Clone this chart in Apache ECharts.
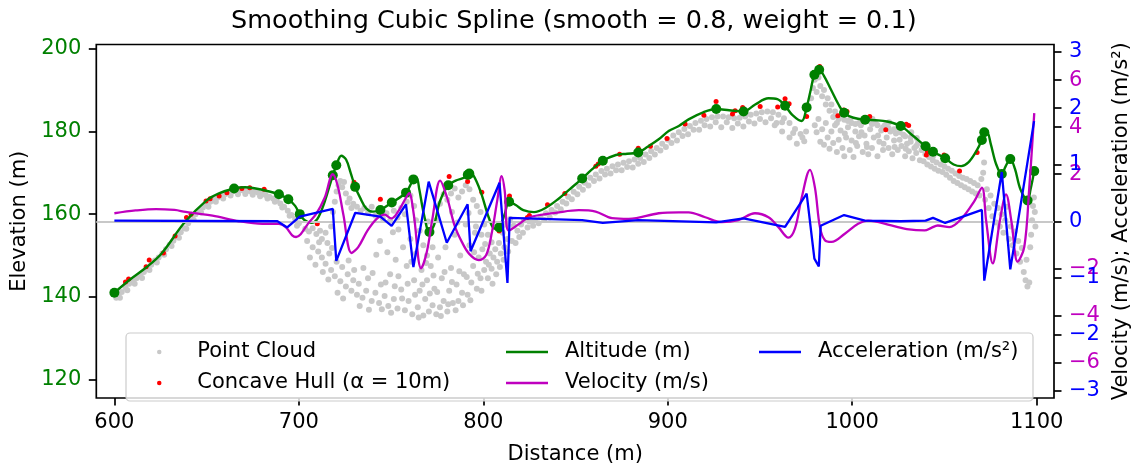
<!DOCTYPE html>
<html>
<head>
<meta charset="utf-8">
<script src="https://cdn.jsdelivr.net/npm/echarts@6/dist/echarts.min.js"></script>
<style>html,body{margin:0;padding:0;background:#fff;}#c{width:1140px;height:470px;}</style>
</head>
<body>
<div id="c"></div>
<script>
const xTicks = [600, 700, 800, 900, 1000, 1100];
const elevTicks = [120, 140, 160, 180, 200];
const velTicks = [-6, -4, -2, 2, 4, 6];
const accTicks = [-3, -2, -1, 0, 1, 2, 3];

const pointCloud = [
[601,139.8],[602,140.5],[604,141.2],[606,142.3],[608,143.2],[610,143.8],[612,144.5],[614,145.3],[616,146.0],[618,146.8],[620,147.8],[622,148.8],[624,149.5],[626,150.5],[628,151.5],[630,152.6],[632,153.6],[634,154.6],[636,155.6],[638,156.6],[640,157.8],[642,158.8],[644,160.0],[646,160.8],[648,161.6],[650,162.4],[652,163.0],[654,163.5],[656,164.0],[658,164.5],[660,164.8],[662,165.2],[664,165.5],[666,165.6],[668,165.7],[670,165.7],[672,165.6],[674,165.5],[676,165.4],[678,165.2],[680,165.0],[682,164.6],[684,164.2],[686,163.8],[688,163.3],[690,162.6],[692,161.8],[694,160.8],[696,159.8],[698,158.8],[700,157.8],
[603,139.8],[607,141.6],[611,143.2],[615,144.6],[619,146.5],[623,148.3],[627,150.2],[631,152.3],[635,154.3],[639,156.5],[643,158.6],[647,160.4],[651,161.8],[655,163.0],[659,163.8],[663,164.5],[667,164.8],[671,164.9],[675,164.7],[679,164.3],[683,163.8],[687,163.0],[691,161.6],[695,159.6],[699,157.2],
[703.5,156.5],[705.5,155.8],[707.5,156.6],[709.5,155.2],[711.5,156.0],[712.5,154.0],[714.5,155.5],[715.5,153.0],[717.5,157.0],[718.5,160.5],[719.5,163.0],[720.5,165.5],[721.5,167.0],[722.5,168.0],[723.5,166.5],[724.5,167.8],[725.5,165.0],[726.5,162.8],[727.5,163.8],[728.5,161.5],[729.5,162.5],[731.5,161.8],[733.5,160.8],[735.5,161.5],[737.5,160.3],[739.5,161.8],[741.5,159.6],[743.5,160.5],[745.5,159.0],[747.5,160.2],[749.5,158.4],[751.5,160.8],[753.5,159.2],[755.5,161.5],[757.5,160.0],[758.5,163.0],[760.5,164.5],[762.5,162.0],[763.5,158.5],[765.5,156.0],[767.5,152.5],[769.5,150.0],[772.5,152.0],[774.5,158.5],[776.5,162.5],[778.5,164.8],[780.5,163.5],[782.5,165.0],[784.5,166.2],[786.5,164.0],[788.5,165.5],[790.5,167.0],[792.5,166.0],[794.5,163.5],[796.5,162.0],[798.5,160.5],[800.5,157.5],[802.5,155.0],[804.5,153.2],[806.5,151.5],[808.5,153.0],[810.5,155.5],[812.5,157.5],[814.5,158.8],[816.5,157.2],[818.5,156.0],[820.5,157.5],
[704.5,153.5],[707.5,152.0],[710.5,151.0],[712.5,149.5],[714.5,148.0],[716.5,150.5],[717.5,146.5],[719.5,145.0],[720.5,148.5],[722.5,143.8],[723.5,147.2],[725.5,142.5],[726.5,145.5],[728.5,141.5],[729.5,144.0],[731.5,140.5],[732.5,143.2],[734.5,139.8],[736.5,141.5],[737.5,144.5],[739.5,139.0],[741.5,141.0],[743.5,138.5],[744.5,143.0],[746.5,140.2],[748.5,137.8],[749.5,145.5],[751.5,139.5],[752.5,149.0],[753.5,137.2],[755.5,141.8],[756.5,152.0],[757.5,136.8],[758.5,147.5],[759.5,139.0],[760.5,154.0],[761.5,135.8],[762.5,144.0],[763.5,150.5],[764.5,137.5],[765.5,141.5],[766.5,146.5],[767.5,135.5],[768.5,139.5],[769.5,144.0],[770.5,136.5],[771.5,147.5],[772.5,138.0],[773.5,142.0],[774.5,135.8],[775.5,149.5],[776.5,137.5],[777.5,144.5],[778.5,139.0],[779.5,152.0],[780.5,136.5],[781.5,141.5],[782.5,147.0],[783.5,138.5],[784.5,155.0],[785.5,143.0],[786.5,139.0],[787.5,150.0],[788.5,141.0],[789.5,145.5],[790.5,157.5],[791.5,140.5],[792.5,152.5],[793.5,143.5],[794.5,147.5],[795.5,155.5],[796.5,142.0],[797.5,149.5],[798.5,144.5],[799.5,151.5],[800.5,146.5],[801.5,148.5],[802.5,144.5],[803.5,150.5],[804.5,146.8],[805.5,149.5],[807.5,148.5],[809.5,150.5],[811.5,152.0],[813.5,151.0],[815.5,153.5],[817.5,153.0],[819.5,154.5],[821.5,155.5],
[706,149.5],[709,147.8],[711,153.2],[713,146.0],[716,144.2],[718,151.8],[721,141.0],[724,139.6],[727,148.8],[730,146.5],[733,137.8],[735,147.0],[738,136.9],[740,145.8],[742,150.2],[745,137.0],[747,143.5],[750,136.2],[752,142.6],[754,145.0],[756,139.6],[759,143.2],[761,148.5],[763,140.5],[765,135.0],[767,143.0],[769,148.2],[771,140.8],[773,145.2],[775,141.2],[777,135.4],[779,146.0],[781,138.2],[783,143.6],[785,136.8],[787,146.2],[789,138.0],[791,144.8],[793,139.2],[795,150.8],[797,145.6],[799,141.5],[801,152.8],[803,147.8],[805,143.2],[807,145.5],[809,147.2],[811,149.0],[813,154.0],[744,153.5],[748,150.8],[751,155.6],[754,156.3],[770,158.2],[783,160.5],[786,158.0],[792,160.3],[796,157.0],[799,155.0],
[822,158.5],[825,158.2],[828,158.6],[831,159.4],[834,160.2],[837,161.0],[840,162.0],[843,163.0],[846,164.2],[849,165.4],[852,166.6],[855,167.6],[858,168.8],[861,169.6],[864,170.4],[867,171.0],[870,171.6],[873,172.0],[876,172.4],[879,172.8],[882,173.2],[885,173.6],[888,174.4],[891,175.2],[894,176.0],[897,177.0],[900,178.0],[903,179.0],[906,179.8],[909,180.6],[912,181.3],[915,182.0],[918,182.6],[921,183.0],[924,183.4],[927,183.6],[930,183.6],[933,183.4],[936,183.2],[939,183.3],[942,183.6],[945,184.0],[948,184.3],[951,184.6],[954,184.8],[957,184.6],[960,184.0],[963,183.2],[966,182.0],[969,180.6],[972,179.4],
[824,156.8],[830,157.8],[836,159.2],[842,161.2],[848,163.6],[854,165.9],[860,168.0],[866,169.6],[872,170.6],[878,171.4],[884,172.2],[890,173.6],[896,175.4],[902,177.2],[908,178.9],[914,180.4],[920,181.5],[926,182.2],[932,182.2],[938,181.9],[944,182.4],[950,183.0],[956,183.2],[962,182.2],[968,179.6],[974,177.6],
[827,157.2],[833,158.6],[839,160.4],[845,162.6],[851,164.8],[857,166.9],[863,168.6],[869,169.8],[875,170.6],[881,171.3],[887,172.6],[893,174.4],[899,176.2],[905,177.8],[911,179.3],[917,180.4],[923,181.2],[929,181.0],[935,180.8],[941,181.2],[947,181.9],[953,182.2],[959,182.0],
[958,181.5],[962,180.0],[966,178.5],[970,177.0],[973,178.5],[975,180.0],
[977.7,188.0],[978.7,190.5],[979.7,192.5],[980.7,189.5],[981.7,193.0],[982.7,191.0],[983.7,188.5],[984.7,190.0],[985.7,186.5],[986.7,188.0],[987.7,185.0],[988.7,186.5],[989.7,183.5],[990.7,184.8],[991.7,182.0],[992.7,183.0],
[979.7,181.5],[980.7,179.8],[981.7,183.0],[982.7,177.5],[983.7,180.5],[984.7,176.8],[985.7,182.0],[986.7,178.5],[987.7,175.8],[988.7,180.0],[989.7,177.2],[990.7,181.5],[991.7,175.0],[992.7,178.0],[993.7,180.2],[994.7,176.0],[995.7,174.0],[996.7,178.5],[997.7,181.0],[998.7,175.5],[999.7,177.8],[1000.7,173.8],[1001.7,180.0],[1002.7,176.5],[1003.7,178.8],[1004.7,181.5],[1005.7,175.0],[1006.7,179.0],[1007.7,177.0],[1008.7,174.5],[1009.7,180.5],[1010.7,176.0],[1011.7,178.5],[1012.7,182.0],[1013.7,174.0],[1014.7,177.5],[1015.7,180.2],[1016.7,175.5],[1017.7,181.5],[1018.7,178.5],[1019.7,176.0],[1020.7,180.0],[1021.7,174.5],[1022.7,177.8],[1023.7,179.5],[1024.7,175.5],[1025.7,178.0],[1026.7,176.5],[1027.7,179.2],[1028.7,174.0],[1029.7,177.0],[1030.7,175.2],[1031.7,178.5],[1032.7,173.5],[1033.7,176.0],[1034.7,174.8],[1035.7,177.2],[1036.7,173.0],[1037.7,175.5],[1038.7,172.8],[1039.7,174.5],[1040.7,172.0],[1041.7,173.8],[1042.7,171.5],[1043.7,173.0],[1044.7,171.0],[1045.7,172.5],[1046.7,170.5],
[993.7,183.8],[995.7,182.8],[997.7,182.5],[999.7,182.0],[1001.7,181.8],[1003.7,182.0],[1005.7,182.3],[1007.7,182.5],[1010.7,181.8],[1013.7,181.5],[1016.7,181.0],[1019.7,180.8],[1022.7,180.5],[1025.7,179.8],[1028.7,178.8],[1031.7,177.5],[1034.7,176.5],[1037.7,175.5],
[996,179.5],[999,183.0],[1002,177.2],[1005,179.8],[1008,176.2],[1011,183.0],[1014,179.0],[1017,177.0],[1020,182.2],[1023,176.2],[1026,180.8],[1029,175.8],[1032,179.8],[1035,178.4],[1038,176.8],[1041,175.2],[1044,174.2],
[1048,172.0],[1049,170.2],[1050,171.5],[1051,169.5],[1052,171.0],[1053,168.8],[1054,170.5],[1055,168.0],[1056,169.8],[1057,167.5],[1058,169.2],[1059,167.0],[1060,168.8],[1061,166.5],[1062,168.5],[1063,166.0],[1064,168.0],[1065,165.5],[1066,167.5],[1067,165.0],[1068,167.0],[1069,164.5],[1070,168.5],[1071,170.0],[1071.5,172.5],[1072,163.5],[1073,166.0],[1074,161.5],[1075,164.5],[1076,159.5],[1077,162.5],[1078,158.0],[1079,161.5],[1080,157.0],[1081,160.0],[1082,155.5],[1083,158.5],[1084,161.8],[1085,154.0],[1086,157.0],[1087,152.5],[1088,155.8],[1089,150.5],[1090,153.5],[1091,148.5],[1092,151.8],[1093,146.0],[1094,144.0],[1095,142.5],[1094.5,149.0],[1096,143.5],[1096.5,152.0],[1097,155.0],[1097.5,158.5],[1098,162.0],[1098.5,164.0],[1099,160.5],[1099.3,157.0]
];

const concaveHull = [
[606,143.6],[607.7,144.3],[617.2,147.3],[618.9,148.9],[626.6,150.6],[632.9,154.7],[639.1,159.2],[641.6,160.0],[649.7,163.2],[651.9,163.7],[656.8,164.4],[661,165.2],[669.1,166.2],[673.4,166.4],[681.2,166.0],[710,157.7],[729.9,167.7],[744.2,163.6],[781.5,169.1],[791.5,167.9],[799.2,165.3],[808.6,155.9],[814.2,164.4],[823.9,159.2],[825,159.7],[834.8,162.3],[844.2,165.0],[861,171.6],[862.3,172.1],[873.9,174.5],[884,175.9],[890.6,176.4],[899.6,178.3],[909.4,181.8],[919.6,183.9],[926.2,187.2],[935.1,184.2],[936.5,185.0],[940.6,185.8],[950.1,186.0],[959.6,185.9],[963.6,187.9],[965.8,186.7],[975.3,183.6],[982.4,195.7],[992.2,183.8],[995.4,185.2],[997.2,184.8],[1009.5,183.6],[1018.2,180.4],[1029.3,181.7],[1030.6,181.4],[1040.2,174.3],[1040.8,175.1],[1049.8,174.3],[1058.2,170.4],[1067.7,174.9]
];

const altitude = [
[600,141.0],[608.5,144.2],[617.2,147.1],[625.6,150.5],[637.9,157.9],[649.7,163.2],[656.7,165.0],[664.9,166.2],[670.8,166.5],[676.6,166.2],[682.9,165.6],[689.2,164.8],[694.3,163.6],[698,162.0],[700.5,160.0],[703,158.6],[706.7,157.9],[710,158.8],[714,163.0],[718.4,169.4],[720.3,171.7],[723,174.1],[725.6,173.2],[728.1,170.0],[730.5,166.6],[733.2,164.0],[736.5,161.4],[740.2,160.6],[744.2,161.0],[750.4,162.8],[758.1,165.2],[762.1,168.4],[763.8,168.8],[765.3,166.0],[767.8,160.0],[770.8,155.7],[773.4,157.5],[776.4,163.0],[781,167.0],[785.5,168.2],[789.5,168.8],[792.4,169.8],[794.5,169.5],[798.6,165.4],[803.1,159.0],[806,156.5],[808.6,156.8],[811.6,160.0],[814,163.0],[817.6,162.2],[821.7,161.0],[827.5,160.5],[833.7,161.5],[841,163.8],[846.8,166.0],[853.6,168.6],[858.9,170.8],[864.8,172.9],[871.9,174.3],[878,174.6],[884,174.9],[889.1,176.3],[895.1,178.1],[900.5,180.1],[906,181.3],[911.3,182.9],[919.2,184.6],[926.3,185.4],[933.3,185.1],[941.1,184.8],[947.4,186.5],[954.6,188.0],[959.4,187.8],[963.6,186.2],[967.5,184.0],[972.6,182.5],[975.3,185.8],[977.5,190.0],[979.5,193.7],[982.1,194.9],[984.6,193.5],[988.6,190.0],[992.6,186.5],[995.6,184.5],[1000.7,183.3],[1007,182.8],[1012.7,182.7],[1018.8,182.4],[1026.3,181.3],[1032.8,179.0],[1039.8,176.4],[1043.8,175.1],[1050.4,173.5],[1055,172.0],[1059.1,171.6],[1063,172.5],[1067,175.0],[1070.3,177.9],[1071.6,179.8],[1073,180.0],[1075.1,177.0],[1078.1,172.0],[1081.1,169.7],[1083.1,171.5],[1085.7,173.3],[1088.2,171.0],[1091.2,166.0],[1095.1,163.3],[1096.7,166.0],[1098.7,170.4]
];

const knots = [
[600,141.0],[664.9,166.2],[689.2,164.8],[694.3,163.6],[700.5,160.0],[718.4,169.4],[720.3,171.8],[730.5,166.6],[744.2,161.0],[750.4,162.8],[758.1,165.2],[762.1,168.4],[770.8,155.7],[781,167.0],[791.6,169.5],[792.4,169.8],[808.6,156.8],[814,163.0],[853.6,168.6],[864.8,172.9],[884,174.9],[926.3,185.4],[941.1,184.8],[963.6,186.2],[975.3,185.8],[979.5,193.7],[982.1,194.9],[995.6,184.5],[1007,182.8],[1026.3,181.3],[1039.8,176.4],[1043.8,175.1],[1050.4,173.5],[1070.3,177.9],[1071.6,179.8],[1081.1,169.7],[1085.7,173.3],[1095.1,163.3],[1098.7,170.4]
];

const velocity = [
[600,0.34],[611.5,0.46],[622.6,0.52],[632.6,0.48],[638.6,0.40],[653.2,0.24],[667.6,0.0],[680.3,-0.11],[689.2,-0.11],[692.9,-0.25],[696.4,-0.6],[698.5,-0.67],[701,-0.55],[705,-0.1],[709.4,0.31],[714,1.0],[718.4,2.0],[721.1,1.5],[724.1,0.3],[728.6,-1.35],[732.2,-1.1],[737.2,-0.4],[742.2,0.1],[746.5,0.28],[750.1,0.12],[753.3,0.35],[758.1,1.0],[759.8,1.2],[762.3,0.3],[766.3,-2.0],[769.4,-1.3],[772.4,0.1],[776.6,1.73],[780.4,1.0],[784.5,-0.2],[788.5,-0.9],[792.5,-1.4],[797.5,-1.65],[801.5,-1.45],[804.6,-0.5],[807.6,0.9],[810,1.92],[811.6,1.3],[813.8,-0.4],[819.7,-0.1],[824.8,0.17],[841,0.38],[851.8,0.47],[860.9,0.41],[869.8,0.13],[878.9,0.1],[895.1,0.34],[906,0.38],[911.3,0.38],[920.3,0.17],[929.3,-0.04],[938.3,0.05],[947.3,0.34],[954.6,0.17],[960,-0.25],[965.4,-0.7],[969,-0.3],[972.6,1.0],[977.1,2.19],[979.8,1.43],[982.5,-0.25],[985.2,-0.81],[988.8,-0.88],[996,-0.53],[1003.2,-0.11],[1008.6,0.03],[1021.2,-0.18],[1030.8,-0.35],[1039.3,-0.39],[1042.9,-0.28],[1046.4,-0.18],[1052.7,-0.25],[1059.1,0.1],[1066.3,0.87],[1070.3,1.43],[1072.6,0.03],[1076.2,-1.79],[1080,0.0],[1083.4,1.14],[1086.3,0.0],[1089.7,-1.72],[1093.3,-1.09],[1096,1.43],[1098.7,4.6]
];

const acceleration = [
[600,0.01],[688.4,0.0],[693.7,-0.11],[700.5,0.08],[718.4,0.22],[720.3,-0.70],[730.6,0.15],[744.2,0.08],[750.3,-0.08],[758.1,0.30],[762.1,-0.81],[770.4,0.70],[780.2,-0.38],[791.5,0.30],[793.1,-0.53],[808.8,0.68],[813.1,-1.09],[814.3,0.06],[853.6,0.02],[864.8,-0.03],[884,0.02],[926.3,-0.02],[941.1,0.05],[963.6,-0.10],[975.3,0.49],[979.5,-0.66],[981.9,-0.80],[982.9,-0.08],[995.6,0.11],[1006.9,0.01],[1026.3,0.0],[1039.8,0.01],[1043.8,0.06],[1050.4,-0.03],[1070.3,0.20],[1071.6,-1.05],[1081.1,0.87],[1085.7,-0.85],[1098.6,1.77]
];

const FONT = 'DejaVu Sans';
const minus = v => String(v).replace('-', '\u2212');
const chart = echarts.init(document.getElementById('c'), null, {renderer: 'canvas'});

function legendItem(name, left, top, icon, w, h) {
  return {
    data: [name], left: left, top: top, icon: icon, itemWidth: w, itemHeight: h,
    padding: 0, z: 10, selectedMode: false,
    textStyle: {fontSize: 21, color: '#000', fontFamily: FONT, lineHeight: 24, padding: [0, 0, 0, 12]}
  };
}

const option = {
  animation: false,
  backgroundColor: '#fff',
  textStyle: {fontFamily: FONT},
  title: {
    text: 'Smoothing Cubic Spline (smooth = 0.8, weight = 0.1)',
    left: 231, top: 6, padding: 0,
    textStyle: {fontSize: 25.5, fontWeight: 'normal', color: '#000', fontFamily: FONT, lineHeight: 30}
  },
  grid: {left: 96.3, right: 83.7, top: 44.5, bottom: 66.7, show: true, borderColor: '#000', borderWidth: 1.7, backgroundColor: 'transparent'},
  legend: [
    legendItem('Point Cloud', 157, 340, 'circle', 42, 4.5),
    legendItem('Concave Hull (\u03b1 = 10m)', 157, 371, 'circle', 42, 4.5),
    legendItem('Altitude (m)', 506, 340, 'rect', 42, 2.5),
    legendItem('Velocity (m/s)', 506, 371, 'rect', 42, 2.5),
    legendItem('Acceleration (m/s\u00b2)', 759, 340, 'rect', 42, 2.5)
  ],
  graphic: [{
    type: 'rect', z: 5,
    shape: {x: 126, y: 333, width: 907, height: 68, r: 4},
    style: {fill: 'rgba(255,255,255,0.8)', stroke: '#cccccc', lineWidth: 1.2}
  }],
  xAxis: {
    type: 'value', min: 590.2, max: 1109.4,
    name: 'Distance (m)', nameLocation: 'middle', nameGap: 46,
    nameTextStyle: {fontSize: 21, color: '#000', fontFamily: FONT},
    axisLine: {show: false, onZero: false},
    axisTick: {show: true, length: 7.5, customValues: xTicks, lineStyle: {color: '#000', width: 1.7}},
    axisLabel: {customValues: xTicks, fontSize: 21, color: '#000', margin: 14, fontFamily: FONT, formatter: v => String(v)},
    splitLine: {show: false}
  },
  yAxis: [
    {
      type: 'value', position: 'left', min: 115.57, max: 201.0,
      name: 'Elevation (m)', nameLocation: 'middle', nameRotate: 90, nameGap: 62,
      nameTextStyle: {fontSize: 21, color: '#000', fontFamily: FONT},
      axisLine: {show: false, onZero: false},
      axisTick: {show: true, length: 7.5, customValues: elevTicks, lineStyle: {color: '#000', width: 1.7}},
      axisLabel: {customValues: elevTicks, fontSize: 21, color: '#008000', margin: 15, fontFamily: FONT},
      splitLine: {show: false}
    },
    {
      type: 'value', position: 'right', min: -7.52, max: 7.52,
      axisLine: {show: false, onZero: false},
      axisTick: {show: true, length: 7.5, customValues: velTicks, lineStyle: {color: '#000', width: 1.7}},
      axisLabel: {customValues: velTicks, fontSize: 21, color: '#bf00bf', margin: 15, fontFamily: FONT, formatter: minus},
      splitLine: {show: false}
    },
    {
      type: 'value', position: 'right', min: -3.125, max: 3.125,
      name: 'Velocity (m/s); Acceleration (m/s\u00b2)', nameLocation: 'middle', nameRotate: 90, nameGap: 57,
      nameTextStyle: {fontSize: 21, color: '#000', fontFamily: FONT},
      axisLine: {show: false, onZero: false},
      axisTick: {show: true, length: 7.5, customValues: accTicks, lineStyle: {color: '#000', width: 1.7}},
      axisLabel: {customValues: accTicks, fontSize: 21, color: '#0000ff', margin: 15, fontFamily: FONT, formatter: minus},
      splitLine: {show: false}
    }
  ],
  series: [
    {name: 'Point Cloud', type: 'scatter', yAxisIndex: 0, data: pointCloud, symbolSize: 6, color: '#c8c8c8', itemStyle: {color: '#c8c8c8', opacity: 1}, z: 1, silent: true},
    {name: 'zero', type: 'line', yAxisIndex: 1, data: [], z: 2, silent: true,
     markLine: {silent: true, symbol: 'none', label: {show: false}, lineStyle: {color: '#c8c8c8', width: 2, type: 'solid'}, data: [{yAxis: 0}]}},
    {name: 'Concave Hull (\u03b1 = 10m)', type: 'scatter', yAxisIndex: 0, data: concaveHull, symbolSize: 5, color: '#ff0000', itemStyle: {color: '#ff0000', opacity: 1}, z: 3, silent: true},
    {name: 'Altitude (m)', type: 'line', yAxisIndex: 0, data: altitude, smooth: 0.35, showSymbol: false, color: '#008000', lineStyle: {color: '#008000', width: 2.4}, z: 4, silent: true},
    {name: 'knots', type: 'scatter', yAxisIndex: 0, data: knots, symbolSize: 10, color: '#008000', itemStyle: {color: '#008000', opacity: 1}, z: 4, silent: true},
    {name: 'Velocity (m/s)', type: 'line', yAxisIndex: 1, data: velocity, smooth: 0.35, showSymbol: false, color: '#bf00bf', lineStyle: {color: '#bf00bf', width: 2.3}, z: 5, silent: true},
    {name: 'Acceleration (m/s\u00b2)', type: 'line', yAxisIndex: 2, data: acceleration, smooth: false, showSymbol: false, color: '#0000ff', lineStyle: {color: '#0000ff', width: 2.3}, z: 6, silent: true}
  ]
};
chart.setOption(option);
</script>
</body>
</html>
